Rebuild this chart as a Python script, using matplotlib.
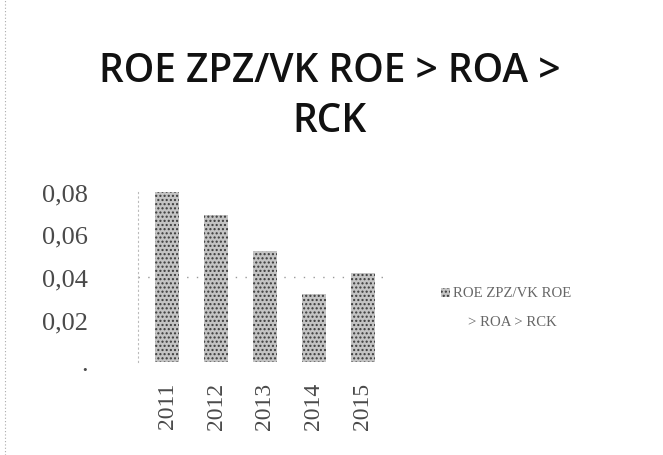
import matplotlib

matplotlib.use("Agg")

import matplotlib.pyplot as plt
from matplotlib.patches import Rectangle

# chart data
years = ["2011", "2012", "2013", "2014", "2015"]
values = [0.080, 0.069, 0.052, 0.032, 0.042]
y_ticks = [0.0, 0.02, 0.04, 0.06, 0.08]
y_tick_labels = [".", "0,02", "0,04", "0,06", "0,08"]
series_name = "ROE ZPZ/VK ROE\n> ROA > RCK"
title = "ROE ZPZ/VK ROE > ROA >\nRCK"

TEXT_GREY = "#4a4a4a"
BAR_FACE = "#c4c4c4"
BAR_DOTS = "#3a3a3a"
SERIF = ["Liberation Serif", "DejaVu Serif"]

fig = plt.figure(figsize=(6.63, 4.56), dpi=100)
fig.patch.set_facecolor("white")

ax = fig.add_axes([0.208, 0.204, 0.376, 0.373])
x = range(len(years))
ax.bar(
    x,
    values,
    width=0.5,
    color=BAR_FACE,
    edgecolor=BAR_DOTS,
    linewidth=0,
    hatch="....",
    zorder=2,
)
ax.set_xlim(-0.6, len(years) - 0.5)
ax.set_ylim(0, 0.08)
ax.set_yticks(y_ticks)
ax.set_yticklabels(y_tick_labels, fontfamily=SERIF, fontsize=19, color=TEXT_GREY)
ax.set_xticks(list(x))
ax.set_xticklabels(years, rotation=90, fontfamily=SERIF, fontsize=17, color=TEXT_GREY)
ax.tick_params(axis="y", length=0, pad=36)
ax.tick_params(axis="x", length=0, pad=14)

for side in ["top", "right", "bottom"]:
    ax.spines[side].set_visible(False)
ax.spines["left"].set_color("#bbbbbb")
ax.spines["left"].set_linestyle((0, (1, 3)))
ax.spines["left"].set_linewidth(0.8)
ax.yaxis.grid(False)
ax.axhline(0.04, color="#999999", linestyle=(0, (1, 6)), linewidth=1.0, zorder=1)

fig.suptitle(
    title,
    x=0.497,
    y=0.885,
    fontfamily="Open Sans",
    fontsize=28,
    fontweight="semibold",
    color="#111111",
    linespacing=1.32,
)

# legend swatch and label
fig.patches.append(
    Rectangle(
        (0.665, 0.346),
        0.014,
        0.021,
        transform=fig.transFigure,
        facecolor=BAR_FACE,
        edgecolor=BAR_DOTS,
        linewidth=0,
        hatch="....",
    )
)
fig.text(
    0.773,
    0.324,
    series_name,
    ha="center",
    va="center",
    multialignment="center",
    fontfamily=SERIF,
    fontsize=10.6,
    color="#666666",
    linespacing=2.6,
)

# faint scan border on the left
fig.add_artist(
    plt.Line2D([0.007, 0.007], [0.0, 1.0], transform=fig.transFigure,
               color="#aaaaaa", linewidth=0.8, linestyle=(0, (1, 2)))
)

fig.savefig("out.png", dpi=100)
